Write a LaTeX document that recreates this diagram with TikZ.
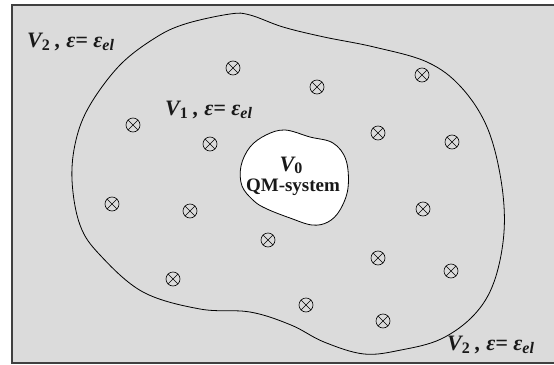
\documentclass[tikz,border=0pt]{standalone}
\usepackage{fontspec}
\setmainfont{Liberation Serif}
\definecolor{bggray}{gray}{0.86}
\definecolor{inkgray}{gray}{0.1}
\newcommand{\epslab}[1]{\fontsize{22}{24}\selectfont\bfseries\itshape V\raisebox{-0.35ex}{\fontsize{16}{18}\selectfont\upshape #1}\ , ε= ε\raisebox{-0.35ex}{\fontsize{16}{18}\selectfont el}}

\begin{document}
\begin{tikzpicture}[x=1pt,y=-1pt,
    charge/.style={circle,draw,line width=0.6pt,minimum size=14pt,inner sep=0pt,
      path picture={\draw[line width=0.6pt] (path picture bounding box.north west)--(path picture bounding box.south east)
        (path picture bounding box.south west)--(path picture bounding box.north east);}},
    lab/.style={anchor=base west,inner sep=0pt,text=inkgray}]
    \useasboundingbox (0,0) rectangle (554,364);
    \fill[bggray] (12,5) rectangle (554,363);
    \draw[line width=1.4pt, black!75] (554,5) -- (12,5) -- (12,363) -- (554,363);
    % boundary of V1
    \draw[line width=0.8pt] plot[smooth cycle, tension=0.6] coordinates {
      (72,180) (76,140) (90,105) (120,65) (155,38) (185,24) (230,14) (250,15)
      (283,27) (324,37) (374,47) (427,62) (461,87) (487,127) (501,180) (504,232)
      (494,282) (474,315) (441,339) (401,350) (364,354) (324,342) (291,325)
      (250,312) (200,309) (143,292) (100,255) (80,225)};
    % QM system V0
    \filldraw[fill=white, line width=0.8pt] plot[smooth cycle, tension=0.6] coordinates {
      (285,130) (310,137) (333,143) (346,160) (348,188) (340,210) (328,222)
      (312,225) (290,218) (267,209) (254,201) (242,186) (241,166) (250,147) (266,135)};
    \node[lab] (outer1) at (27,47) {\epslab{2}};
    \node[lab] (inner) at (165,115) {\epslab{1}};
    \node[lab] (outer2) at (447,350) {\epslab{2}};
    \node[anchor=base,inner sep=0pt,text=inkgray] (vzero) at (291,171)
      {\fontsize{22}{24}\selectfont\bfseries\itshape V\raisebox{-0.25ex}{\fontsize{16}{18}\selectfont\upshape 0}};
    \node[anchor=base,inner sep=0pt,text=inkgray] (qm) at (293,191)
      {\fontsize{19}{21}\selectfont\bfseries QM-system};
    % charges
    \foreach \x/\y [count=\i] in {233/68, 317/87, 422/75, 133/125, 210/144, 378/133,
        452/142, 112/204, 190/211, 423/209, 268/240, 378/258, 451/271, 173/279,
        306/305, 383/321}
      \node[charge] (c\i) at (\x,\y) {};
\end{tikzpicture}
\end{document}
